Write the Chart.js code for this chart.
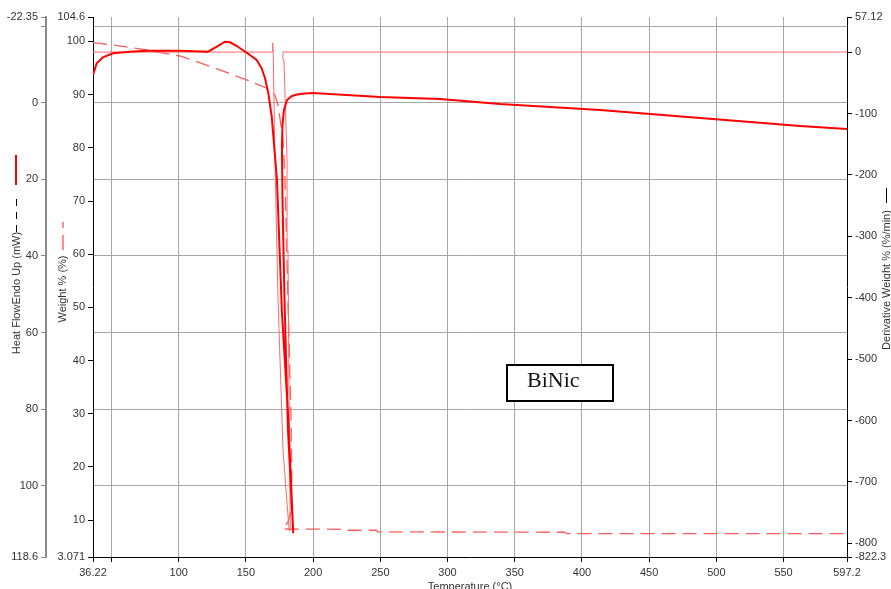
<!DOCTYPE html>
<html>
<head>
<meta charset="utf-8">
<title>BiNic TGA / DSC</title>
<script src="https://cdn.jsdelivr.net/npm/chart.js@4"></script>
<style>
  body { margin: 0; background: #fff; }
  .chartContainer { width: 891px; height: 589px; }
</style>
</head>
<body>
<div class="chartContainer"><canvas id="myChart"></canvas></div>
<script>
// heat flow (mW) vs temperature (C) - solid thick red
const hfTemp = [36.22, 39.0, 43.66, 51.1, 63.75, 76.2, 100.9, 121.8, 128.3, 134.4, 138.2, 143.2, 150.6, 158.0, 161.7, 164.2, 166.7, 169.2, 173.1, 176.8, 181.3, 185.2, 181.3, 178.7, 177.2, 176.8, 177.2, 178.3, 180.6, 184.3, 188.0, 194.0, 199.9, 249.8, 294.4, 339, 413.5, 488, 562.3, 597.2];
const hfMw = [-7.2, -10.26, -11.83, -12.87, -13.29, -13.55, -13.55, -13.29, -14.6, -15.9, -15.75, -14.78, -13.03, -11.13, -8.96, -6.35, -2.43, 3.67, 20.2, 54.9, 81.0, 112.4, 85.5, 51.5, 25.4, 11.6, 5.8, 1.9, -0.68, -1.73, -2.1, -2.38, -2.5, -1.47, -0.95, 0.36, 1.93, 4.01, 6.1, 6.89];

// weight % - dashed
const wtTemp = [36.22, 51.1, 76.2, 100.9, 108.4, 130.7, 150.6, 165.5, 171.6, 173.9, 177.6, 179.1, 181.5, 183.5, 184.1, 183.5, 181.3, 177.6, 222, 223, 247, 248, 387, 389, 597.2];
const wtPct = [99.77, 99.34, 98.4, 97.27, 96.65, 94.64, 92.76, 91.2, 89.94, 88.06, 81.5, 73.96, 48.95, 30.15, 17.55, 11.9, 9.66, 8.34, 8.28, 8.1, 8.1, 7.8, 7.72, 7.46, 7.46];

// derivative weight %/min - thin line
const dwTemp = [36.22, 169.4, 169.9, 170.3, 171.6, 173.9, 177.6, 182.1, 183.0, 182.1, 181.3, 180.6, 178.3, 177.6, 597.2];
const dwRate = [0, 0, 15, 0, -175.8, -403.8, -648, -778.4, -780, -566.6, -322.3, -175.8, -12.9, 0, 0];

// axis ticks
const tempTicks = [36.22, 50, 100, 150, 200, 250, 300, 350, 400, 450, 500, 550, 597.2];
const tempLabels = ['36.22', '', '100', '150', '200', '250', '300', '350', '400', '450', '500', '550', '597.2'];
const hfTicks = [-22.35, -20, 0, 20, 40, 60, 80, 100, 118.6];
const hfLabels = ['-22.35', '', '0', '20', '40', '60', '80', '100', '118.6'];
const wtTicks = [3.071, 10, 20, 30, 40, 50, 60, 70, 80, 90, 100, 104.6];
const wtLabels = ['3.071', '10', '20', '30', '40', '50', '60', '70', '80', '90', '100', '104.6'];
const dwTicks = [-822.3, -800, -700, -600, -500, -400, -300, -200, -100, 0, 57.12];
const dwLabels = ['-822.3', '-800', '-700', '-600', '-500', '-400', '-300', '-200', '-100', '0', '57.12'];

const pts = (xs, ys) => xs.map((x, i) => ({ x: x, y: ys[i] }));
const fixTicks = (vals) => (scale) => { scale.ticks = vals.map(v => ({ value: v })); };

Chart.defaults.font.family = '"Liberation Sans", Arial, sans-serif';
Chart.defaults.font.size = 11;
Chart.defaults.color = '#333';

// titles, legend swatches and the sample label box
const decorations = {
  id: 'decorations',
  afterDraw(chart) {
    const ctx = chart.ctx;
    ctx.save();
    ctx.font = '11px "Liberation Sans", Arial, sans-serif';
    ctx.fillStyle = '#333';
    ctx.textAlign = 'center';
    ctx.textBaseline = 'middle';

    const vText = (txt, x, y) => {
      ctx.save();
      ctx.translate(x, y);
      ctx.rotate(-Math.PI / 2);
      ctx.fillText(txt, 0, 0);
      ctx.restore();
    };
    vText('Heat FlowEndo Up (mW)', 17, 293);
    vText('Weight % (%)', 63, 289);
    vText('Derivative Weight % (%/min)', 887, 280);

    ctx.textBaseline = 'top';
    ctx.fillText('Temperature (\u00b0C)', 470, 581);

    // legend swatches
    ctx.lineWidth = 2;
    ctx.strokeStyle = '#ff0000';
    ctx.beginPath(); ctx.moveTo(16, 185); ctx.lineTo(16, 155); ctx.stroke();
    ctx.lineWidth = 1;
    ctx.strokeStyle = '#000';
    ctx.setLineDash([7, 6]);
    ctx.beginPath(); ctx.moveTo(16.5, 232); ctx.lineTo(16.5, 198); ctx.stroke();
    ctx.strokeStyle = '#ff6a6a';
    ctx.lineWidth = 1.5;
    ctx.setLineDash([15, 7]);
    ctx.beginPath(); ctx.moveTo(63, 250); ctx.lineTo(63, 222); ctx.stroke();
    ctx.setLineDash([]);
    ctx.strokeStyle = '#000';
    ctx.lineWidth = 1;
    ctx.beginPath(); ctx.moveTo(886.5, 203); ctx.lineTo(886.5, 188); ctx.stroke();

    // sample name box
    ctx.fillStyle = '#fff';
    ctx.fillRect(507, 365, 106, 36);
    ctx.strokeStyle = '#000';
    ctx.lineWidth = 2;
    ctx.strokeRect(507, 365, 106, 36);
    ctx.fillStyle = '#111';
    ctx.font = '22px "Liberation Serif", "Times New Roman", serif';
    ctx.textAlign = 'left';
    ctx.textBaseline = 'alphabetic';
    ctx.fillText('BiNic', 527, 387);
    ctx.restore();
  }
};

const ctx = document.getElementById('myChart').getContext('2d');
const myChart = new Chart(ctx, {
  type: 'line',
  data: {
    datasets: [
      {
        label: 'Heat Flow',
        data: pts(hfTemp, hfMw),
        yAxisID: 'yHf',
        borderColor: '#ff0000',
        borderWidth: 2,
        pointRadius: 0,
        tension: 0,
      },
      {
        label: 'Derivative Weight',
        data: pts(dwTemp, dwRate),
        yAxisID: 'yDw',
        borderColor: '#ff6a6a',
        borderWidth: 1,
        pointRadius: 0,
        tension: 0,
      },
      {
        label: 'Weight',
        data: pts(wtTemp, wtPct),
        yAxisID: 'yWt',
        borderColor: '#ff5c5c',
        borderWidth: 1.3,
        borderDash: [14, 7],
        pointRadius: 0,
        tension: 0,
      },
    ],
  },
  options: {
    responsive: true,
    maintainAspectRatio: false,
    animation: false,
    layout: { padding: { top: 17, left: 0, right: 0, bottom: 0 } },
    plugins: { legend: { display: false }, tooltip: { enabled: false } },
    scales: {
      x: {
        type: 'linear',
        position: 'bottom',
        min: 36.22,
        max: 597.2,
        afterBuildTicks: fixTicks(tempTicks),
        afterFit: (s) => { s.height = 32; },
        ticks: { autoSkip: false, maxRotation: 0, padding: 4, callback: (v, i) => tempLabels[i] },
        grid: {
          color: (c) => (c.index === 0 || c.index === tempTicks.length - 1) ? 'rgba(0,0,0,0)' : '#a6a6a6',
          tickColor: '#000',
          tickLength: 5,
        },
        border: { color: '#000', width: 1 },
      },
      yHf: {
        type: 'linear',
        position: 'left',
        weight: 2,
        reverse: true,
        min: -22.35,
        max: 118.6,
        afterBuildTicks: fixTicks(hfTicks),
        afterFit: (s) => { s.width = 46; },
        ticks: { autoSkip: false, padding: 3, callback: (v, i) => hfLabels[i] },
        grid: {
          color: (c) => (c.index === 0 || c.index === hfTicks.length - 1) ? 'rgba(0,0,0,0)' : '#a6a6a6',
          tickColor: '#888',
          tickLength: 5,
        },
        border: { color: '#8a8a8a', width: 2 },
      },
      yWt: {
        type: 'linear',
        position: 'left',
        weight: 1,
        min: 3.071,
        max: 104.6,
        afterBuildTicks: fixTicks(wtTicks),
        afterFit: (s) => { s.width = 47; },
        ticks: { autoSkip: false, padding: 3, callback: (v, i) => wtLabels[i] },
        grid: { drawOnChartArea: false, tickColor: '#000', tickLength: 5 },
        border: { color: '#000', width: 1 },
      },
      yDw: {
        type: 'linear',
        position: 'right',
        min: -822.3,
        max: 57.12,
        afterBuildTicks: fixTicks(dwTicks),
        afterFit: (s) => { s.width = 44; },
        ticks: { autoSkip: false, padding: 3, callback: (v, i) => dwLabels[i] },
        grid: { drawOnChartArea: false, tickColor: '#000', tickLength: 5 },
        border: { color: '#000', width: 1 },
      },
    },
  },
  plugins: [decorations],
});
</script>
</body>
</html>
